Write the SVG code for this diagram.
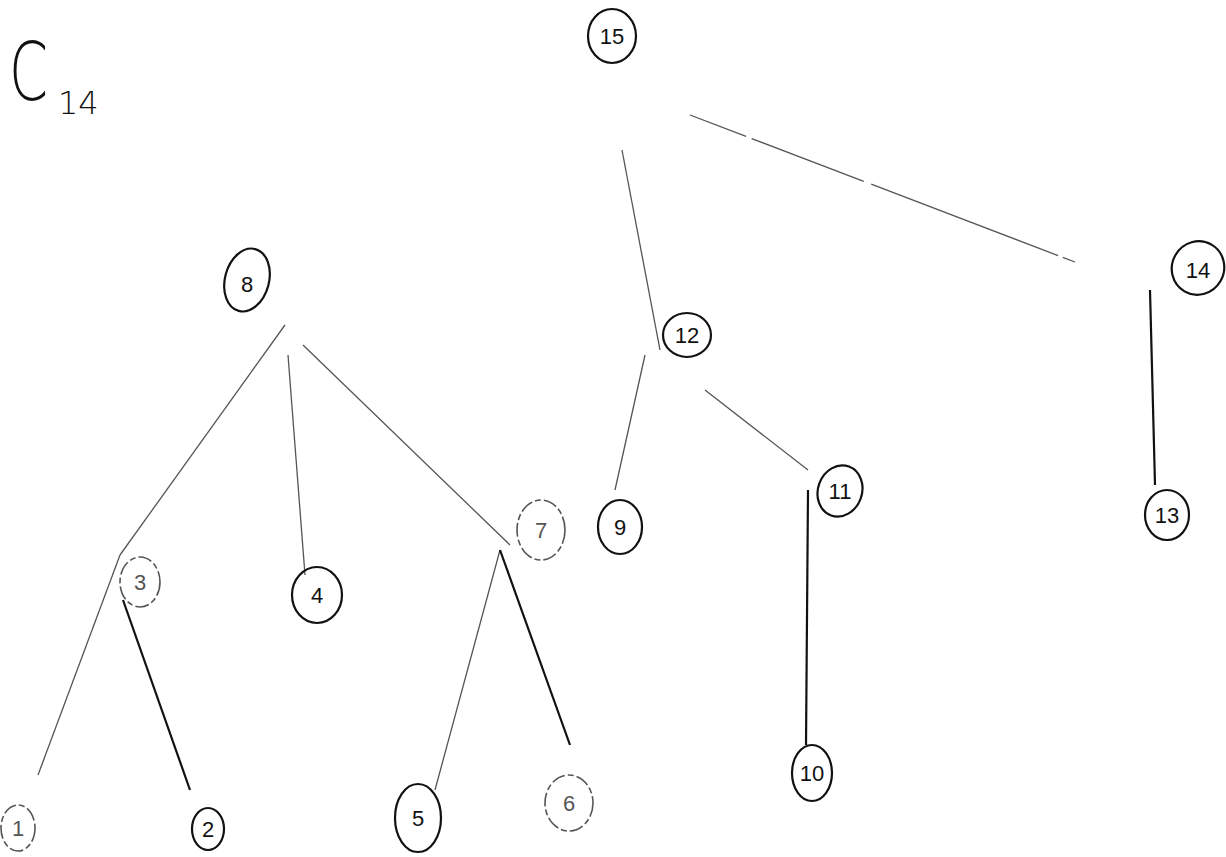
<svg xmlns="http://www.w3.org/2000/svg" width="1226" height="857" viewBox="0 0 1226 857">
<style>
.n ellipse{fill:none;stroke:#111;stroke-width:2.2}
.n.f ellipse{stroke:#555;stroke-width:1.6;stroke-dasharray:14 3 6 3}
.n text{font-family:"Liberation Sans","DejaVu Sans",sans-serif;font-size:22px;fill:#111;text-anchor:middle;dominant-baseline:central}
.n.f text{fill:#555}
.e line{stroke:#555;stroke-width:1.3;fill:none}
.e .b{stroke:#111;stroke-width:2.2}
.t{font-family:"DejaVu Sans","Liberation Sans",sans-serif;font-weight:200;fill:#111}
</style>
<rect width="1226" height="857" fill="#fff"/>
<g id="title">
<text class="t" transform="translate(9,100) scale(0.7,1)" font-size="80">C</text>
<text class="t" x="58" y="114" font-size="32">14</text>
</g>
<g id="connectors" class="e">
<line x1="622" y1="150" x2="660" y2="350"/>
<line x1="690" y1="115" x2="1075" y2="262" stroke-dasharray="60 6 120 8 200 5"/>
<line x1="645" y1="355" x2="615" y2="490"/>
<line x1="705" y1="390" x2="808" y2="470"/>
<line class="b" x1="808" y1="490" x2="806" y2="745"/>
<line class="b" x1="1150" y1="290" x2="1155" y2="485"/>
<line x1="285" y1="325" x2="120" y2="555"/>
<line x1="120" y1="555" x2="38" y2="775"/>
<line class="b" x1="123" y1="600" x2="190" y2="790"/>
<line x1="288" y1="355" x2="305" y2="575"/>
<line x1="303" y1="345" x2="510" y2="545"/>
<line x1="500" y1="550" x2="435" y2="790"/>
<line class="b" x1="500" y1="550" x2="570" y2="745"/>
</g>
<g id="node15" class="n"><ellipse cx="612" cy="36" rx="24" ry="27"/><text x="612" y="36">15</text></g>
<g id="node8" class="n"><ellipse cx="247" cy="280" rx="22" ry="32" transform="rotate(15 247 280)"/><text x="247" y="284">8</text></g>
<g id="node12" class="n"><ellipse cx="687" cy="335" rx="24" ry="22"/><text x="687" y="335">12</text></g>
<g id="node14" class="n"><ellipse cx="1198" cy="268" rx="26" ry="27" transform="rotate(30 1198 268)"/><text x="1198" y="270">14</text></g>
<g id="node3" class="n f"><ellipse cx="140" cy="582" rx="20" ry="25"/><text x="140" y="582">3</text></g>
<g id="node4" class="n"><ellipse cx="317" cy="595" rx="25" ry="28"/><text x="317" y="595">4</text></g>
<g id="node7" class="n f"><ellipse cx="541" cy="530" rx="24" ry="30"/><text x="541" y="530">7</text></g>
<g id="node9" class="n"><ellipse cx="620" cy="527" rx="22" ry="27"/><text x="620" y="527">9</text></g>
<g id="node11" class="n"><ellipse cx="840" cy="491" rx="22" ry="26" transform="rotate(20 840 491)"/><text x="840" y="491">11</text></g>
<g id="node13" class="n"><ellipse cx="1167" cy="515" rx="22" ry="25"/><text x="1167" y="515">13</text></g>
<g id="node10" class="n"><ellipse cx="812" cy="773" rx="20" ry="28"/><text x="812" y="773">10</text></g>
<g id="node1" class="n f"><ellipse cx="18" cy="828" rx="17" ry="23"/><text x="18" y="828">1</text></g>
<g id="node2" class="n"><ellipse cx="208" cy="829" rx="16" ry="21"/><text x="208" y="829">2</text></g>
<g id="node5" class="n"><ellipse cx="418" cy="818" rx="23" ry="34"/><text x="418" y="818">5</text></g>
<g id="node6" class="n f"><ellipse cx="569" cy="803" rx="24" ry="28"/><text x="569" y="803">6</text></g>
</svg>
